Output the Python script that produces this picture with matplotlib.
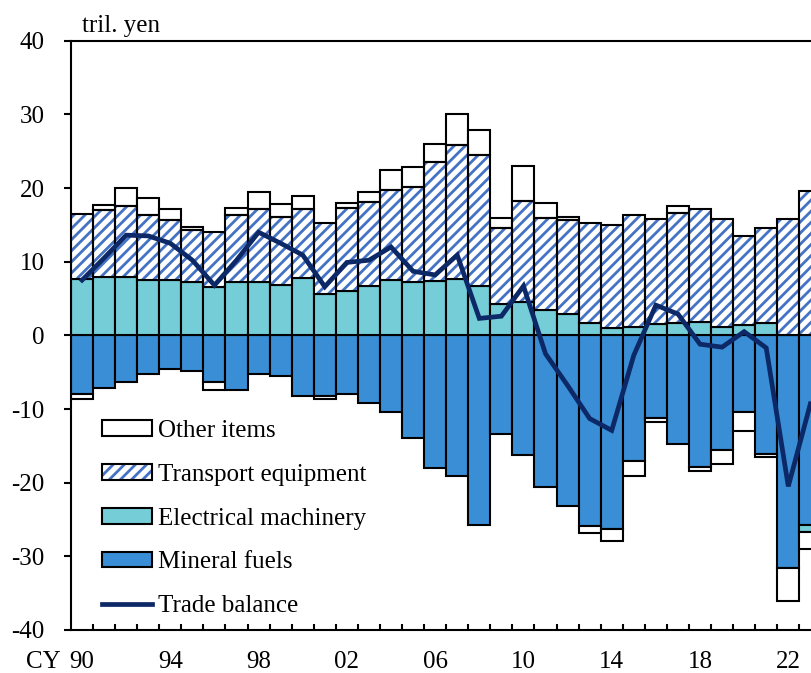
import numpy as np
import matplotlib
matplotlib.use("Agg")
import matplotlib.pyplot as plt
from matplotlib.patches import Patch
from matplotlib.lines import Line2D
from matplotlib.legend_handler import HandlerTuple

# donnees (tril. yen)
years = list(range(1990, 2024))
tick_labels = ['90', '94', '98', '02', '06', '10', '14', '18', '22']

mineral = [-7.9, -7.2, -6.4, -5.2, -4.6, -4.8, -6.3, -7.4, -5.3, -5.5,
           -8.2, -8.2, -7.9, -9.2, -10.4, -14.0, -18.0, -19.1, -25.8, -13.4,
           -16.3, -20.6, -23.1, -25.9, -26.3, -17.0, -11.2, -14.7, -17.9, -15.6,
           -10.4, -16.1, -31.6, -25.7]
electrical = [7.6, 7.9, 7.9, 7.5, 7.5, 7.3, 6.6, 7.3, 7.2, 6.9,
              7.8, 5.6, 6.0, 6.7, 7.5, 7.2, 7.4, 7.6, 6.7, 4.2,
              4.5, 3.5, 2.9, 1.7, 1.0, 1.2, 1.5, 1.7, 1.8, 1.1,
              1.4, 1.7, 0.0, -1.0]
transport = [8.9, 9.1, 9.7, 8.9, 8.1, 7.0, 7.4, 9.1, 10.0, 9.2,
             9.4, 9.7, 11.3, 11.4, 12.2, 13.0, 16.1, 18.3, 17.8, 10.4,
             13.7, 12.4, 12.7, 13.6, 14.0, 15.1, 14.3, 14.9, 15.4, 14.7,
             12.1, 12.9, 15.8, 19.6]
other = [-0.8, 0.7, 2.4, 2.3, 1.5, 0.4, -1.1, 0.9, 2.3, 1.7,
         1.7, -0.5, 0.6, 1.4, 2.7, 2.7, 2.5, 4.1, 3.4, 1.3,
         4.8, 2.1, 0.5, -0.9, -1.6, -2.1, -0.6, 1.0, -0.5, -1.9,
         -2.6, -0.4, -4.5, -2.3]
balance = [7.5, 10.5, 13.6, 13.5, 12.5, 10.2, 6.8, 10.2, 14.0, 12.5,
           10.9, 6.6, 9.9, 10.2, 12.0, 8.7, 8.2, 10.9, 2.3, 2.6,
           6.7, -2.5, -6.8, -11.3, -12.9, -2.7, 4.1, 2.9, -1.2, -1.6,
           0.5, -1.7, -20.5, -9.3]

c_mineral = '#3A8ED6'
c_elec = '#75CDD7'
c_hatch = '#4472C4'
c_line = '#0C2866'

plt.rcParams['font.family'] = ['Liberation Serif', 'DejaVu Serif']
plt.rcParams['font.size'] = 18
plt.rcParams['axes.unicode_minus'] = False
plt.rcParams['hatch.linewidth'] = 2.0

fig = plt.figure(figsize=(8.12, 6.73), dpi=100)
# l'axe depasse a droite: la derniere barre est coupee
ax = fig.add_axes([71 / 812, 43 / 673, 750.4 / 812, 589.3 / 673])

x = np.arange(len(years))
pos = np.zeros(len(years))
neg = np.zeros(len(years))


def empile(vals):
    global pos, neg
    vals = np.array(vals)
    bottom = np.where(vals >= 0, pos, neg)
    pos = pos + np.where(vals >= 0, vals, 0)
    neg = neg + np.where(vals < 0, vals, 0)
    return bottom


b = empile(mineral)
ax.bar(x, mineral, 1.0, bottom=b, color=c_mineral, edgecolor='black', linewidth=1.5, zorder=2)
b = empile(electrical)
ax.bar(x, electrical, 1.0, bottom=b, color=c_elec, edgecolor='black', linewidth=1.5, zorder=2)
b = empile(transport)
ax.bar(x, transport, 1.0, bottom=b, color='white', edgecolor=c_hatch, hatch='///', linewidth=0, zorder=2)
ax.bar(x, transport, 1.0, bottom=b, fill=False, edgecolor='black', linewidth=1.5, zorder=3)
b = empile(other)
ax.bar(x, other, 1.0, bottom=b, color='white', edgecolor='black', linewidth=1.5, zorder=2)

ax.plot(x, balance, color=c_line, linewidth=3.4, zorder=5, solid_joinstyle='miter')

ax.set_xlim(-0.5, 33.5)
ax.set_ylim(-40, 40)
ax.set_yticks(range(-40, 41, 10))
ax.set_xticks(x[::4])
ax.set_xticklabels(tick_labels)
ax.set_xticks(x[:-1] + 0.5, minor=True)
ax.tick_params(axis='x', which='major', length=0, pad=15)
ax.tick_params(axis='x', which='minor', direction='in', length=4.5, width=1.5)
ax.tick_params(axis='y', direction='out', length=5, width=1.5, pad=14)
for s in ax.spines.values():
    s.set_linewidth(1.5)

fig.text(82 / 812, 1 - 31.7 / 673, 'tril. yen', fontsize=18, va='baseline', ha='left')
fig.text(26 / 812, 1 - 668 / 673, 'CY', fontsize=18, va='baseline', ha='left')

# legende
h_other = Patch(facecolor='white', edgecolor='black', linewidth=1.5)
h_tr1 = Patch(facecolor='white', edgecolor=c_hatch, hatch='///', linewidth=0)
h_tr2 = Patch(fill=False, edgecolor='black', linewidth=1.5)
h_elec = Patch(facecolor=c_elec, edgecolor='black', linewidth=1.5)
h_min = Patch(facecolor=c_mineral, edgecolor='black', linewidth=1.5)
h_bal = Line2D([], [], color=c_line, linewidth=3.4)
ax.legend([h_other, (h_tr1, h_tr2), h_elec, h_min, h_bal],
          ['Other items', 'Transport equipment', 'Electrical machinery', 'Mineral fuels', 'Trade balance'],
          handler_map={tuple: HandlerTuple(ndivide=1)},
          loc='upper left', bbox_to_anchor=(101.7 / 812, 1 - 420 / 673),
          bbox_transform=fig.transFigure, frameon=False, borderpad=0, borderaxespad=0,
          handlelength=2.0, handleheight=0.6, handletextpad=0.25, labelspacing=0.87,
          fontsize=18)

fig.savefig('out.png', dpi=100)
